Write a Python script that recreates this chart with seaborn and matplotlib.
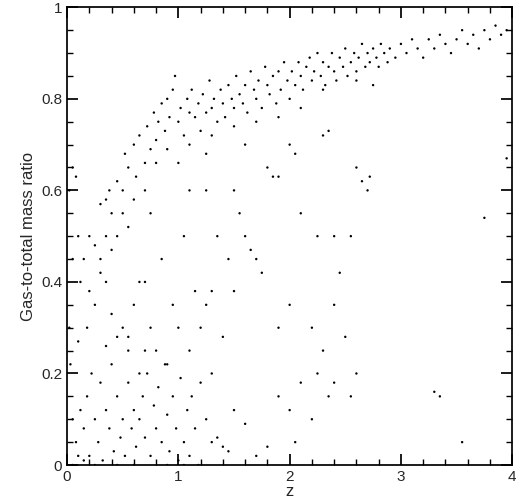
import matplotlib
matplotlib.use("Agg")
import matplotlib.pyplot as plt
from matplotlib.ticker import MultipleLocator, FuncFormatter
import seaborn as sns
import pandas as pd

sns.set_theme(style="ticks")
plt.rcParams["font.family"] = ["Liberation Sans", "DejaVu Sans"]

# upper sequence
band_z = [0.3, 0.35, 0.38, 0.4, 0.45, 0.5, 0.52, 0.55, 0.6, 0.62, 0.65, 0.7, 0.72, 0.75, 0.78, 0.8, 0.82, 0.85, 0.88, 0.9,
          0.92, 0.95, 0.97, 1.0, 1.02, 1.05, 1.08, 1.1, 1.12, 1.15, 1.18, 1.2, 1.22, 1.25, 1.28, 1.3, 1.32, 1.35, 1.38, 1.4,
          1.42, 1.45, 1.48, 1.5, 1.52, 1.55, 1.58, 1.6, 1.62, 1.65, 1.68, 1.7, 1.72, 1.75, 1.78, 1.8, 1.82, 1.85, 1.88, 1.9,
          1.92, 1.95, 1.98, 2.0, 2.02, 2.05, 2.08, 2.1, 2.12, 2.15, 2.18, 2.2, 2.22, 2.25, 2.28, 2.3, 2.32, 2.35, 2.38, 2.4,
          2.42, 2.45, 2.48, 2.5, 2.52, 2.55, 2.58, 2.6, 2.62, 2.65, 2.68, 2.7, 2.72, 2.75, 2.78, 2.8, 2.82, 2.85, 2.88, 2.9,
          2.95, 3.0, 3.05, 3.1, 3.15, 3.2, 3.25, 3.3, 3.35, 3.4, 3.45, 3.5, 3.55, 3.6, 3.65, 3.7, 3.75, 3.8, 3.85, 3.9, 3.95,
          1.1, 1.3, 1.5, 1.7, 1.9, 2.1, 2.3, 2.6, 2.75, 1.25, 0.9, 0.7, 0.6, 0.8, 1.0, 0.5, 0.55, 0.45, 0.4, 0.35, 0.25, 0.2, 0.15]
band_r = [0.57, 0.58, 0.6, 0.55, 0.62, 0.6, 0.68, 0.65, 0.7, 0.63, 0.72, 0.66, 0.74, 0.69, 0.77, 0.71, 0.75, 0.79, 0.73, 0.8,
          0.76, 0.82, 0.85, 0.75, 0.78, 0.72, 0.8, 0.77, 0.82, 0.76, 0.79, 0.73, 0.81, 0.77, 0.84, 0.78, 0.8, 0.75, 0.82, 0.79,
          0.76, 0.83, 0.8, 0.78, 0.85, 0.81, 0.79, 0.83, 0.77, 0.86, 0.82, 0.8, 0.84, 0.78, 0.87, 0.83, 0.81, 0.85, 0.79, 0.86,
          0.82, 0.88, 0.84, 0.8, 0.86, 0.83, 0.88, 0.85, 0.82, 0.87, 0.89, 0.84, 0.86, 0.9, 0.85, 0.88, 0.83, 0.87, 0.9, 0.86,
          0.84, 0.89, 0.87, 0.91, 0.85, 0.88, 0.9, 0.86, 0.89, 0.92, 0.87, 0.9, 0.88, 0.91, 0.89, 0.87, 0.92, 0.9, 0.88, 0.91,
          0.89, 0.92, 0.9, 0.93, 0.91, 0.89, 0.93, 0.91, 0.94, 0.92, 0.9, 0.93, 0.95, 0.92, 0.94, 0.91, 0.95, 0.93, 0.96, 0.94, 0.95,
          0.7, 0.72, 0.74, 0.75, 0.76, 0.78, 0.82, 0.84, 0.83, 0.68, 0.69, 0.6, 0.58, 0.66, 0.66, 0.55, 0.52, 0.5, 0.47, 0.5, 0.48, 0.5, 0.45]

# scattered middle
mid_z = [0.05, 0.08, 0.02, 0.1, 0.05, 0.12, 0.2, 0.18, 0.25, 0.3, 0.35, 0.4, 0.45, 0.5, 0.55, 0.6, 0.65, 0.7, 0.75, 0.8,
         0.85, 0.9, 0.95, 1.0, 1.05, 1.1, 1.15, 1.2, 1.25, 1.3, 1.35, 1.4, 1.45, 1.5, 1.55, 1.6, 1.65, 1.7, 1.75, 1.8,
         1.85, 1.9, 2.0, 2.05, 2.1, 2.2, 2.25, 2.3, 2.35, 2.4, 2.45, 2.5, 2.55, 2.6, 2.65, 2.7, 2.72, 3.75, 3.95, 3.3,
         3.35, 3.55, 1.6, 2.0, 0.3, 0.65, 0.75, 1.1, 1.25, 1.5, 1.3, 1.9, 2.4, 2.3]
mid_r = [0.65, 0.63, 0.6, 0.5, 0.45, 0.4, 0.38, 0.3, 0.35, 0.42, 0.4, 0.33, 0.28, 0.3, 0.25, 0.35, 0.2, 0.4, 0.3, 0.25,
         0.45, 0.22, 0.35, 0.3, 0.5, 0.25, 0.38, 0.3, 0.35, 0.2, 0.5, 0.28, 0.45, 0.6, 0.55, 0.5, 0.47, 0.45, 0.42, 0.65,
         0.63, 0.63, 0.35, 0.68, 0.55, 0.3, 0.5, 0.72, 0.73, 0.5, 0.42, 0.28, 0.5, 0.65, 0.62, 0.6, 0.63, 0.54, 0.67, 0.16,
         0.15, 0.05, 0.7, 0.7, 0.45, 0.4, 0.55, 0.6, 0.6, 0.38, 0.38, 0.3, 0.35, 0.25]

# low region
low_z = [0.02, 0.05, 0.08, 0.1, 0.12, 0.15, 0.18, 0.2, 0.22, 0.25, 0.28, 0.3, 0.32, 0.35, 0.38, 0.4, 0.42, 0.45, 0.48, 0.5,
         0.52, 0.55, 0.58, 0.6, 0.62, 0.65, 0.68, 0.7, 0.72, 0.75, 0.78, 0.8, 0.82, 0.85, 0.88, 0.9, 0.92, 0.95, 0.98, 1.0,
         1.02, 1.05, 1.08, 1.1, 1.12, 1.15, 1.18, 1.2, 1.25, 1.3, 1.35, 1.4, 1.45, 1.5, 1.6, 1.7, 1.8, 1.9, 2.0, 2.05,
         2.1, 2.2, 2.25, 2.35, 2.4, 2.55, 2.6, 0.03, 0.1, 0.0, 0.05, 0.15, 0.25, 0.45, 0.6, 0.9, 1.05, 0.7, 0.55, 0.35]
low_r = [0.3, 0.1, 0.05, 0.02, 0.12, 0.08, 0.15, 0.02, 0.2, 0.1, 0.05, 0.18, 0.01, 0.12, 0.08, 0.22, 0.03, 0.15, 0.06, 0.1,
         0.02, 0.18, 0.08, 0.12, 0.04, 0.1, 0.15, 0.06, 0.2, 0.02, 0.13, 0.08, 0.17, 0.05, 0.22, 0.11, 0.03, 0.15, 0.08, 0.01,
         0.19, 0.05, 0.12, 0.02, 0.15, 0.08, 0.0, 0.18, 0.1, 0.05, 0.06, 0.04, 0.03, 0.12, 0.09, 0.02, 0.04, 0.15, 0.12, 0.05,
         0.18, 0.1, 0.2, 0.15, 0.18, 0.15, 0.2, 0.22, 0.27, 0.0, 0.0, 0.01, 0.0, 0.0, 0.0, 0.0, 0.0, 0.25, 0.28, 0.26]

df = pd.DataFrame({"z": band_z + mid_z + low_z, "ratio": band_r + mid_r + low_r})

fig = plt.figure(figsize=(5.2, 5.03), dpi=100)
ax = fig.add_axes([0.129, 0.0755, 0.856, 0.91])
sns.scatterplot(data=df, x="z", y="ratio", ax=ax, color="black", s=3, marker="o", edgecolor="none", linewidth=0)

ax.set_xlim(0, 4)
ax.set_ylim(0, 1)
ax.xaxis.set_major_locator(MultipleLocator(1))
ax.xaxis.set_minor_locator(MultipleLocator(0.2))
ax.yaxis.set_major_locator(MultipleLocator(0.2))
ax.yaxis.set_minor_locator(MultipleLocator(0.05))
fmt = FuncFormatter(lambda v, p: f"{v:g}")
ax.xaxis.set_major_formatter(fmt)
ax.yaxis.set_major_formatter(fmt)
ax.tick_params(which="both", direction="in", top=True, right=True, labelsize=11, color="black")
ax.tick_params(which="major", length=8)
ax.tick_params(which="minor", length=4)
for s in ax.spines.values():
    s.set_color("black")
ax.set_xlabel("z", fontsize=12, labelpad=0)
ax.set_ylabel("Gas-to-total mass ratio", fontsize=12)

fig.savefig("out.png", dpi=100)
